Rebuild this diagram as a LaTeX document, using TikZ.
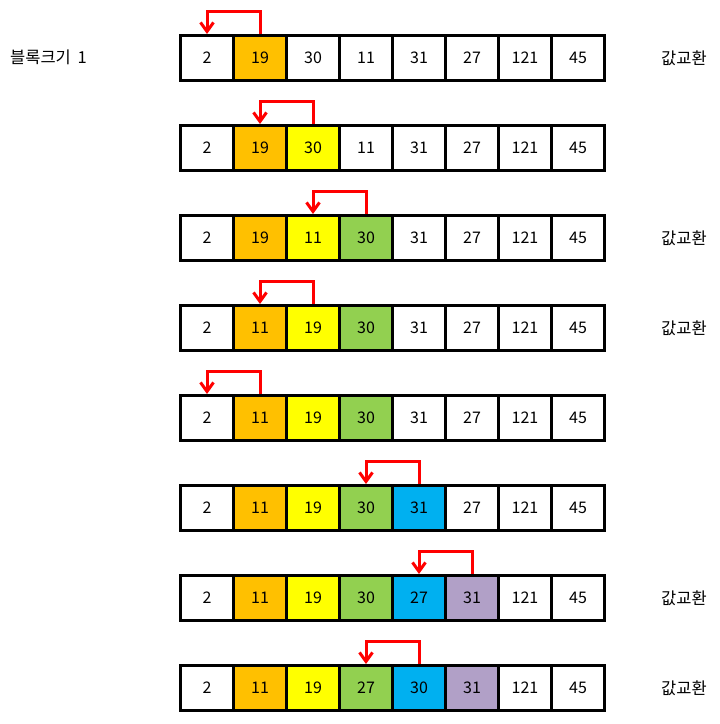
\documentclass[tikz,border=0pt]{standalone}
\usepackage{fontspec}
\setmainfont{Noto Sans CJK KR}
\usetikzlibrary{arrows.meta}
\definecolor{corange}{HTML}{FFC000}
\definecolor{cyellow}{HTML}{FFFF00}
\definecolor{cgreen}{HTML}{92D050}
\definecolor{cblue}{HTML}{00B0F0}
\definecolor{cpurple}{HTML}{B1A0C7}
\definecolor{cred}{HTML}{FF0000}
\tikzset{
  cellbox/.style={draw=black, line width=3pt, minimum width=53pt, minimum height=45pt,
    inner sep=0pt, font=\fontsize{16}{19}\selectfont, text=black},
  swaparrow/.style={draw=cred, line width=3pt, -{Straight Barb[length=9pt,width=13pt]}},
  sidelabel/.style={font=\fontsize{16.5}{19}\selectfont, inner sep=0pt},
}
\newcommand\cellrow[2]{%
  \foreach \v/\c [count=\i] in {#2} {%
    \node[cellbox, fill=\c] (r#1c\i) at ({180.5+53*(\i-0.5)}, {58+90*(#1-1)}) {\v};
  }%
}
\begin{document}
\begin{tikzpicture}[x=1pt, y=-1pt]
\useasboundingbox[fill=white] (0,0) rectangle (720,724);
\cellrow{1}{2/white,19/corange,30/white,11/white,31/white,27/white,121/white,45/white}
\cellrow{2}{2/white,19/corange,30/cyellow,11/white,31/white,27/white,121/white,45/white}
\cellrow{3}{2/white,19/corange,11/cyellow,30/cgreen,31/white,27/white,121/white,45/white}
\cellrow{4}{2/white,11/corange,19/cyellow,30/cgreen,31/white,27/white,121/white,45/white}
\cellrow{5}{2/white,11/corange,19/cyellow,30/cgreen,31/white,27/white,121/white,45/white}
\cellrow{6}{2/white,11/corange,19/cyellow,30/cgreen,31/cblue,27/white,121/white,45/white}
\cellrow{7}{2/white,11/corange,19/cyellow,30/cgreen,27/cblue,31/cpurple,121/white,45/white}
\cellrow{8}{2/white,11/corange,19/cyellow,27/cgreen,30/cblue,31/cpurple,121/white,45/white}
% arrows
\draw[swaparrow] (r1c2.north) -- ++(0,-23) -| (r1c1.north);
\draw[swaparrow] (r2c3.north) -- ++(0,-23) -| (r2c2.north);
\draw[swaparrow] (r3c4.north) -- ++(0,-23) -| (r3c3.north);
\draw[swaparrow] (r4c3.north) -- ++(0,-23) -| (r4c2.north);
\draw[swaparrow] (r5c2.north) -- ++(0,-23) -| (r5c1.north);
\draw[swaparrow] (r6c5.north) -- ++(0,-23) -| (r6c4.north);
\draw[swaparrow] (r7c6.north) -- ++(0,-23) -| (r7c5.north);
\draw[swaparrow] (r8c5.north) -- ++(0,-23) -| (r8c4.north);
% labels
\node[sidelabel, anchor=west] (blk) at (10,57) {블록크기\hspace{0.4em}1};
\node[sidelabel] (sw1) at (684,58) {값교환};
\node[sidelabel] (sw3) at (684,238) {값교환};
\node[sidelabel] (sw4) at (684,328) {값교환};
\node[sidelabel] (sw7) at (684,598) {값교환};
\node[sidelabel] (sw8) at (684,688) {값교환};
\end{tikzpicture}
\end{document}
